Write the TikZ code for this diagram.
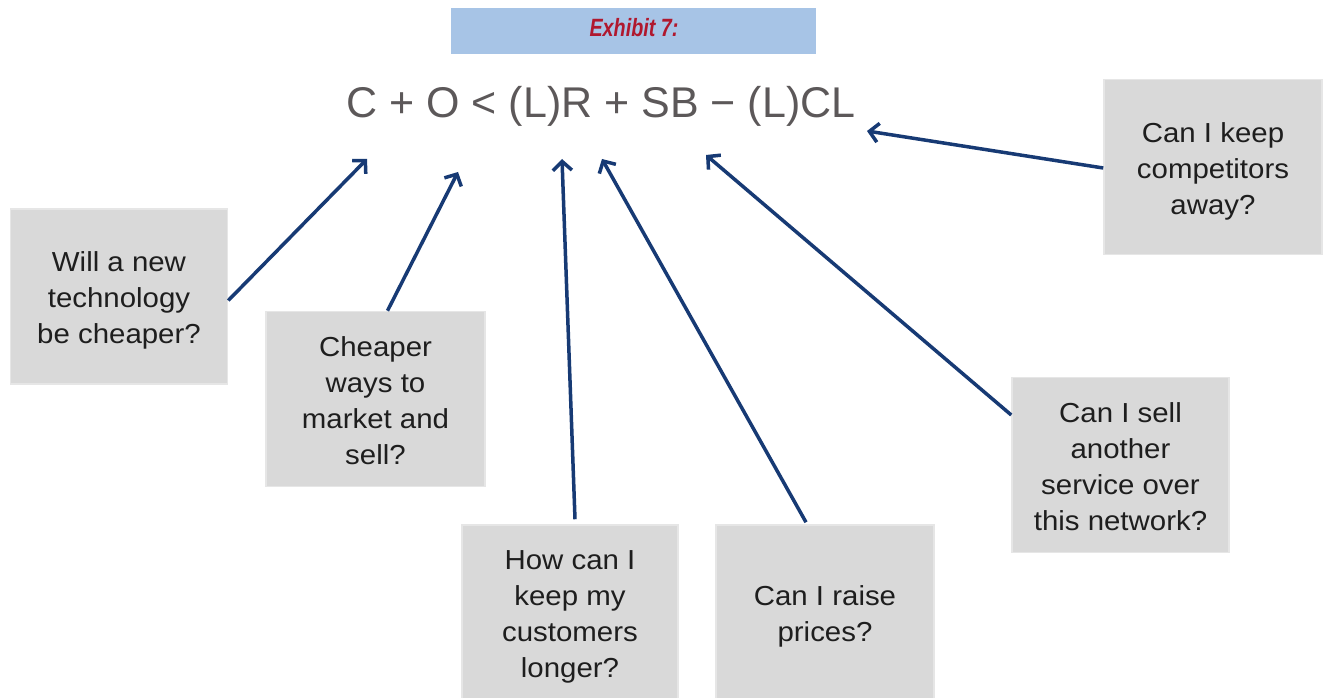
\documentclass[tikz,border=0pt]{standalone}
\usepackage{fontspec}
\setmainfont{Liberation Sans}
\usetikzlibrary{arrows.meta,calc}
\definecolor{barblue}{HTML}{A7C4E6}
\definecolor{titlered}{HTML}{B0182E}
\definecolor{formulagray}{HTML}{5C5859}
\definecolor{boxgray}{HTML}{D9D9D9}
\definecolor{boxedge}{HTML}{E6E6E6}
\definecolor{arrowblue}{HTML}{173A74}
\definecolor{textdark}{HTML}{1E1E1E}
\newcommand{\boxtext}[1]{\raisebox{-4pt}[\height][\depth]{\scalebox{1.07}[1]{\begin{tabular}{@{}c@{}}#1\end{tabular}}}}
\tikzset{
  qbox/.style={rectangle, fill=boxgray, draw=boxedge, line width=1.5pt,
    minimum width=217pt, minimum height=175pt, inner sep=0pt,
    text=textdark,
    font=\fontsize{27.5}{36}\selectfont},
  conn/.style={draw=arrowblue, line width=3.5pt,
    -{Straight Barb[length=9pt,width=19pt]}}
}
\begin{document}
\begin{tikzpicture}[x=1pt,y=-1pt]
\useasboundingbox (0,0) rectangle (1323,698);
\fill[white] (0,0) rectangle (1323,698);
% title bar
\fill[barblue] (451,8) rectangle (816,54);
\node[anchor=base, inner sep=0pt, text=titlered,
  font=\fontsize{25}{28}\selectfont\bfseries\itshape] (title) at (634,37)
  {\scalebox{0.79}[1]{Exhibit 7:}};
% formula
\node[anchor=base, inner sep=0pt, text=formulagray,
  font=\fontsize{43}{50}\selectfont] (formula) at (601,118)
  {C + O < (L)R + SB − (L)CL};
% boxes
\node[qbox] (b1) at (119,296.5) {\boxtext{Will a new\\technology\\be cheaper?}};
\node[qbox, minimum width=219pt] (b2) at (375.5,399) {\boxtext{Cheaper\\ways to\\market and\\sell?}};
\node[qbox, minimum width=216pt] (b3) at (570,612.5) {\boxtext{How can I\\keep my\\customers\\longer?}};
\node[qbox, minimum width=218pt] (b4) at (825,612.5) {\boxtext{Can I raise\\prices?}};
\node[qbox] (b5) at (1120.5,465) {\boxtext{Can I sell\\another\\service over\\this network?}};
\node[qbox, minimum width=218pt] (b6) at (1213,167) {\boxtext{Can I keep\\competitors\\away?}};
% arrow targets
\coordinate (t1) at (367,159);
\coordinate (t2) at (458,172);
\coordinate (t3) at (562,159);
\coordinate (t4) at (602,159);
\coordinate (t5) at (706,155);
\coordinate (t6) at (867,131);
% connectors
\draw[conn] ($(b1.east)+(0,4)$) -- (t1);
\draw[conn] ($(b2.north)+(12,0)$) -- (t2);
\draw[conn] ($(b3.north)+(5,-5)$) -- (t3);
\draw[conn] ($(b4.north)+(-19,-2)$) -- (t4);
\draw[conn] ($(b5.west)+(0,-50)$) -- (t5);
\draw[conn] ($(b6.west)+(0,1)$) -- (t6);
\end{tikzpicture}
\end{document}
